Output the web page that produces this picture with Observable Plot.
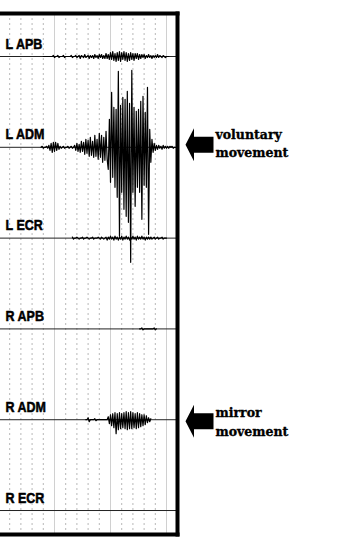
<!DOCTYPE html>
<html><head><meta charset="utf-8">
<script src="https://cdn.jsdelivr.net/npm/d3@7"></script>
<script src="https://cdn.jsdelivr.net/npm/@observablehq/plot@0.6"></script>
<style>body{margin:0;background:#fff;overflow:hidden}</style>
</head><body><div id="chart"></div>
<script>
// channel names, top to bottom
const channels = ["L APB", "L ADM", "L ECR", "R APB", "R ADM", "R ECR"];
// time grid (divisions)
const minorTicks = [1, 2, 3, 4, 6, 7, 8, 9, 11, 12, 13, 14];
const majorTicks = [5, 10, 15];
const STEP = 0.1; // sample spacing in divisions

// EMG samples (amplitude units), each trace starts at its t0
const lApbT0 = 4.0;
const lApb = [0,0,0,0,0,0,0,0,0,
  1,-1,0,0,1,-1,0,0,
  0,1,-1,0,0,0,0,0,1,-1,0,0,
  1,-1,0,1,-2,1,0,-1,2,-1,0,1,-2,1,-1,1,
  -2,2,-1,1,-2,2,-1,2,-2,1,-2,3,-2,2,-3,
  4,-3,5,-4,3,-5,4,-4,5,-5,4,-3,5,-4,4,-5,3,-4,4,-3,3,-4,3,-2,3,-3,2,
  -2,2,-1,2,-2,1,-1,2,-1,1,-2,1,-1,1,-1,2,-1,1,0,-1,1,0,-1,0,0,0];

const lAdmT0 = 3.8;
const lAdm = [0,1,-1,0,0,1,-1,
  2,-3,4,-5,5,-4,5,-3,4,-2,1,-1,
  0,1,-1,0,0,1,-1,0,1,-1,0,
  2,-3,4,-4,3,-5,6,-4,5,-7,8,-6,7,-9,10,-8,6,-10,12,-9,8,-12,14,-10,12,-15,10,-13,16,-12,
  -22,28,-35,55,-30,40,-40,38,-50,76,-89,42,-45,50,-62,48,-69,56,-75,44,
  -115,77,-45,40,-59,36,-40,38,-45,46,-72,51,-38,35,-40,60,-87,18,-15,8,
  -5,4,-3,2,-2,2,-1,1,-2,2,-1,1,-1,1,-1,1,0,1,-1,0,0];

const lEcrT0 = 6.6;
const lEcr = [1,-1,0,0,1,0,-1,0,0,1,-1,0,
  0,1,0,-1,0,0,1,-1,0,0,0,1,0,-1,1,0,-1,0,
  1,-2,1,-1,2,-1,1,-2,2,-1,1,-2,1,-1,2,-2,1,-1,2,-1,1,-2,1,-1,2,-1,1,-2,2,-1,1,-1,2,-1,1,-2,1,-1,1,-1,
  1,-1,0,1,-1,0,1,-1,0,0,1,-1,0,0,0];

const rApbT0 = 12.6;
const rApb = [0,0,1,-1,0,0,0,0,0,0,0,0,0,1,-1,0];

const rAdmT0 = 7.8;
const rAdm = [0,0,2,-2,0,0,0,0,1,-1,0,0,0,0,0,0,0,0,0,0,
  3,-4,5,-6,6,-8,7,-14,6,-10,7,-9,6,-8,7,-9,8,-10,7,-9,8,-9,7,-8,6,-9,7,-8,6,-7,5,-6,5,-5,4,-3,2,-2,1];

// annotations
const noteLabels = ["voluntary\nmovement", "mirror\nmovement"];
const noteChannels = [1, 4];

const GAIN = 1 / 90.8; // channel spacing per amplitude unit

const traces = [[0, lApbT0, lApb], [1, lAdmT0, lAdm], [2, lEcrT0, lEcr], [3, rApbT0, rApb], [4, rAdmT0, rAdm]];
const samples = traces.flatMap(([ch, t0, vals]) =>
  vals.map((v, i) => ({ch, t: t0 + i * STEP, y: ch - v * GAIN})));

const chIdx = channels.map((_, i) => i);
const notes = noteLabels.map((label, i) => ({label, ch: noteChannels[i]}));

const blockArrow = {
  draw(ctx) {
    ctx.moveTo(0, 0);
    ctx.lineTo(8.5, -16.5);
    ctx.lineTo(8.5, -8);
    ctx.lineTo(28, -8);
    ctx.lineTo(28, 8);
    ctx.lineTo(8.5, 8);
    ctx.lineTo(8.5, 16.5);
    ctx.closePath();
  }
};

const serif = "'DejaVu Serif', serif";
const marks = [
  Plot.ruleX(minorTicks, {stroke: "#b8b8b8", strokeDasharray: "2,3", strokeWidth: 1}),
  Plot.ruleX(majorTicks, {stroke: "#d0d0d0", strokeWidth: 1}),
  Plot.ruleY(chIdx, {stroke: "#222", strokeWidth: 1}),
  Plot.line(samples, {x: "t", y: "y", z: "ch", stroke: "#000", strokeWidth: 1.2}),
  Plot.text(channels, {frameAnchor: "left", y: (d, i) => i, text: d => d, dx: 5, dy: -8,
    textAnchor: "start", lineAnchor: "bottom", fontWeight: "bold", fontSize: 12.5,
    fontFamily: "'Liberation Sans', Arial, sans-serif", fill: "#000", stroke: "#000", strokeWidth: 0.45}),
  Plot.frame({anchor: "top", stroke: "#000", strokeWidth: 4, strokeLinecap: "square"}),
  Plot.frame({anchor: "right", stroke: "#000", strokeWidth: 4, strokeLinecap: "square"}),
  Plot.frame({anchor: "bottom", stroke: "#000", strokeWidth: 4, strokeLinecap: "square"}),
  Plot.dot([notes[0]], {frameAnchor: "right", y: "ch", symbol: blockArrow, fill: "#000", stroke: null, dx: 8, dy: -2.5}),
  Plot.dot([notes[1]], {frameAnchor: "right", y: "ch", symbol: blockArrow, fill: "#000", stroke: null, dx: 8, dy: 1.5}),
  Plot.text([notes[0]], {frameAnchor: "right", y: "ch", text: "label", dx: 38, dy: 9.7, textAnchor: "start",
    lineAnchor: "bottom", lineHeight: 1.45, fontWeight: "bold", fontSize: 12.5, fontFamily: serif,
    fill: "#000", stroke: "#000", strokeWidth: 0.35}),
  Plot.text([notes[1]], {frameAnchor: "right", y: "ch", text: "label", dx: 38, dy: 16.5, textAnchor: "start",
    lineAnchor: "bottom", lineHeight: 1.5, fontWeight: "bold", fontSize: 12.5, fontFamily: serif,
    fill: "#000", stroke: "#000", strokeWidth: 0.35})
];

const svg = Plot.plot({
  width: 357, height: 537,
  marginLeft: 0, marginRight: 180, marginTop: 13, marginBottom: 3,
  x: {domain: [0.18, 15.98], axis: null},
  y: {domain: [-0.4736, 5.264], reverse: true, axis: null},
  style: {background: "#fff", overflow: "visible"},
  marks
});
// vertically stretched channel labels as in the original
d3.select(svg).selectAll("text").each(function() {
  if (!channels.includes(this.textContent)) return;
  const tr = this.getAttribute("transform") || "";
  this.setAttribute("transform", tr + " scale(1,1.22)");
});
document.getElementById("chart").append(svg);
</script>
</body></html>
